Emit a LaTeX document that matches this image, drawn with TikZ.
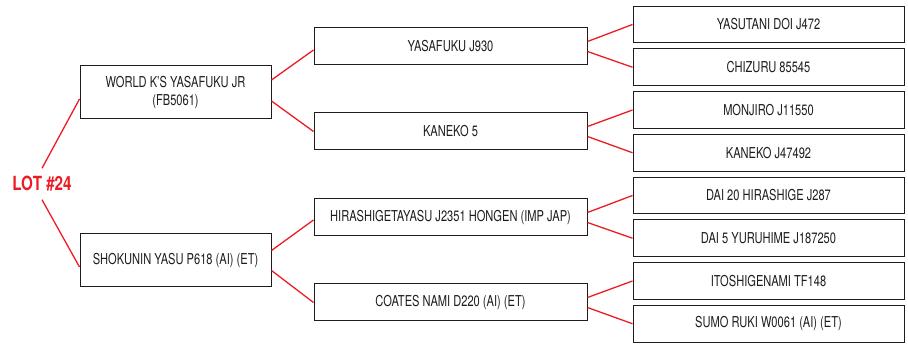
\documentclass[tikz,border=0pt]{standalone}
\usepackage{fontspec}
\setmainfont{TeX Gyre Heros}[FakeStretch=0.74]
\usetikzlibrary{positioning}
\definecolor{lotred}{RGB}{237,28,36}
\definecolor{ink}{RGB}{30,28,28}
\tikzstyle{lotlbl}=[text=lotred,font=\fontsize{19.5}{22}\selectfont\bfseries\addfontfeature{FakeStretch=0.78},inner xsep=2pt,inner ysep=8pt]
\tikzstyle{gen1}=[rectangle,draw=ink,line width=1pt,text=ink,align=center,minimum width=191pt,minimum height=53pt,font=\fontsize{15}{18}\selectfont]
\tikzstyle{gen2}=[rectangle,draw=ink,line width=1pt,text=ink,align=center,minimum width=273pt,minimum height=37pt,font=\fontsize{15}{18}\selectfont]
\tikzstyle{gen3}=[rectangle,draw=ink,line width=1pt,text=ink,align=center,minimum width=271pt,minimum height=36.75pt,font=\fontsize{15}{18}\selectfont]
\tikzstyle{link}=[draw=lotred,line width=1.3pt]

\begin{document}
\begin{tikzpicture}[x=1pt,y=-1pt]
\useasboundingbox (0,0) rectangle (908,347);
\node (lot) [lotlbl] at (42,184) {LOT \#24};
\node (sire) [gen1] at (175.5,92.5) {WORLD K'S YASAFUKU JR\\(FB5061)};
\node (dam) [gen1] at (175.5,260.5) {SHOKUNIN YASU P618 (AI) (ET)};
\node (ss) [gen2] at (450.5,46.5) {YASAFUKU J930};
\node (sd) [gen2] at (450.5,131.5) {KANEKO 5};
\node (ds) [gen2] at (450.5,217.5) {HIRASHIGETAYASU J2351 HONGEN (IMP JAP)};
\node (dd) [gen2] at (450.5,302.5) {COATES NAMI D220 (AI) (ET)};
\node (sss) [gen3] at (768.5,24.5) {YASUTANI DOI J472};
\node (ssd) [gen3, below=5pt of sss] {CHIZURU 85545};
\node (sds) [gen3, below=5pt of ssd] {MONJIRO J11550};
\node (sdd) [gen3, below=5pt of sds] {KANEKO J47492};
\node (dss) [gen3, below=5pt of sdd] {DAI 20 HIRASHIGE J287};
\node (dsd) [gen3, below=5pt of dss] {DAI 5 YURUHIME J187250};
\node (dds) [gen3, below=5pt of dsd] {ITOSHIGENAMI TF148};
\node (ddd) [gen3, below=5pt of dds] {SUMO RUKI W0061 (AI) (ET)};
\draw [link] (lot.north) -- ([yshift=-6.5pt]sire.west);
\draw [link] (lot.south) -- ([yshift=-6.5pt]dam.west);
\draw [link] ([yshift=12.5pt]sire.east) -- ([yshift=-3.5pt]ss.west);
\draw [link] ([yshift=-8.5pt]sire.east) -- (sd.west);
\draw [link] ([yshift=10pt]dam.east) -- ([yshift=-2.5pt]ds.west);
\draw [link] ([yshift=-10pt]dam.east) -- (dd.west);
\draw [link] ([yshift=5pt]ss.east) -- (sss.west);
\draw [link] ([yshift=-5pt]ss.east) -- (ssd.west);
\draw [link] ([yshift=5pt]sd.east) -- (sds.west);
\draw [link] ([yshift=-5pt]sd.east) -- (sdd.west);
\draw [link] ([yshift=5pt]ds.east) -- (dss.west);
\draw [link] ([yshift=-5pt]ds.east) -- (dsd.west);
\draw [link] ([yshift=5pt]dd.east) -- (dds.west);
\draw [link] ([yshift=-5pt]dd.east) -- (ddd.west);
\end{tikzpicture}
\end{document}
